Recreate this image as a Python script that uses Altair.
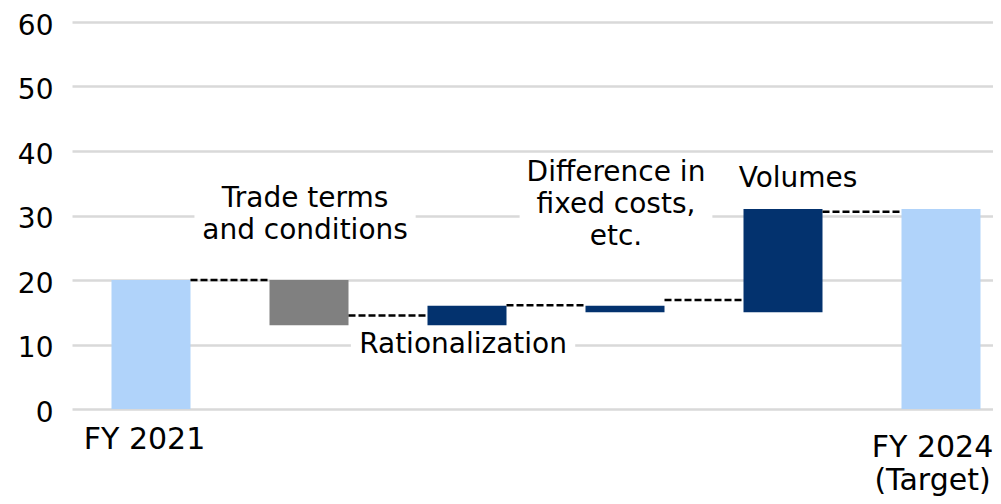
import altair as alt
import pandas as pd

# ---- data ----
categories = ["FY 2021", "Trade terms and conditions", "Rationalization",
              "Difference in fixed costs, etc.", "Volumes", "FY 2024 (Target)"]
bar_low = [0, 13, 13, 15, 15, 0]
bar_high = [20, 20, 16, 16, 31, 31]
bar_kind = ["total", "decrease", "increase", "increase", "increase", "total"]
connector_level = [20, 14.5, 16.1, 16.9, 30.6]
axis_labels = ["FY 2021", "", "", "", "", "FY 2024\n(Target)"]
y_ticks = [0, 10, 20, 30, 40, 50, 60]

annotation_text = ["Trade terms\nand conditions", "Rationalization",
                   "Difference in\nfixed costs,\netc.", "Volumes"]
annotation_x = [0.975, 1.975, 2.943, 4.095]
annotation_y = [32.6, 9.9, 36.6, 35.7]   # first text line

FONT = "DejaVu Sans"
HALF_BAR = 0.25

bars = pd.DataFrame({
    "idx": list(range(len(categories))),
    "category": categories,
    "x0": [i - HALF_BAR for i in range(len(categories))],
    "x1": [i + HALF_BAR for i in range(len(categories))],
    "low": bar_low,
    "high": bar_high,
    "kind": bar_kind,
})

connectors = pd.DataFrame({
    "x0": [i + HALF_BAR for i in range(len(connector_level))],
    "x1": [i + 1 - HALF_BAR for i in range(len(connector_level))],
    "level": connector_level,
})

annotations = pd.DataFrame({
    "text": annotation_text,
    "x": annotation_x,
    "y": annotation_y,
})

# white label backgrounds (styling: extents in data units)
box_half_w = [0.70, 0.71, 0.61]
box_top = [35.5, 12.4, 39.0]
box_bottom = [25.5, 8.0, 24.5]
boxes = pd.DataFrame({
    "x0": [x - w for x, w in zip(annotation_x, box_half_w)],
    "x1": [x + w for x, w in zip(annotation_x, box_half_w)],
    "y0": box_bottom,
    "y1": box_top,
})

# x-axis label expression from the label list
label_vals = [i for i, l in enumerate(axis_labels) if l]
expr = "''"
for i in reversed(label_vals):
    parts = axis_labels[i].split("\n")
    if len(parts) == 1:
        lab = "'" + parts[0] + "'"
    else:
        lab = "[" + ", ".join("'" + p + "'" for p in parts) + "]"
    expr = f"datum.value == {i} ? {lab} : {expr}"

PX_PER_UNIT = 158
PLOT_W = 921
x_scale = alt.Scale(domain=[-0.5, -0.5 + PLOT_W / PX_PER_UNIT], nice=False, zero=False)
y_scale = alt.Scale(domain=[0, 60], nice=False)

x_axis = alt.Axis(
    values=label_vals, labelExpr=expr, grid=False, domain=False, ticks=False,
    labelFont=FONT, labelFontSize=30, labelColor="black", labelFlush=False,
    labelOverlap=False, labelBound=False, labelLineHeight=33,
    labelPadding={"condition": {"test": "datum.value == 5", "value": 23}, "value": 15},
    labelOffset={"condition": {"test": "datum.value == 0", "value": -7}, "value": -9},
    title=None,
)
y_axis = alt.Axis(
    values=y_ticks, grid=True, gridColor="#d9d9d9", gridWidth=2.5, domain=False,
    ticks=False, labelFont=FONT, labelFontSize=28, labelColor="black",
    labelPadding=19, labelOffset=4, title=None,
)

bar_layer = alt.Chart(bars).mark_rect().encode(
    x=alt.X("x0:Q", scale=x_scale, axis=x_axis),
    x2="x1:Q",
    y=alt.Y("low:Q", scale=y_scale, axis=y_axis),
    y2="high:Q",
    color=alt.Color("kind:N",
                    scale=alt.Scale(domain=["total", "decrease", "increase"],
                                    range=["#b0d3fa", "#808080", "#03326e"]),
                    legend=None),
)

box_layer = alt.Chart(boxes).mark_rect(color="white").encode(
    x=alt.X("x0:Q", scale=x_scale),
    x2="x1:Q",
    y=alt.Y("y0:Q", scale=y_scale),
    y2="y1:Q",
)

rule_layer = alt.Chart(connectors).mark_rule(
    color="black", strokeWidth=2.5, strokeDash=[7, 3]
).encode(
    x=alt.X("x0:Q", scale=x_scale),
    x2="x1:Q",
    y=alt.Y("level:Q", scale=y_scale),
)

text_layer = alt.Chart(annotations).mark_text(
    font=FONT, fontSize=28, lineHeight=32, lineBreak="\n",
    align="center", baseline="middle", color="black",
).encode(
    x=alt.X("x:Q", scale=x_scale),
    y=alt.Y("y:Q", scale=y_scale),
    text="text:N",
)

chart = alt.layer(box_layer, bar_layer, rule_layer, text_layer).properties(
    width=PLOT_W, height=387,
    autosize=alt.AutoSizeParams(type="none"),
    padding={"left": 64, "top": 14, "right": 0, "bottom": 87},
).configure_view(stroke=None)

chart.save("out.html", embed_options={"renderer": "svg", "actions": False})
